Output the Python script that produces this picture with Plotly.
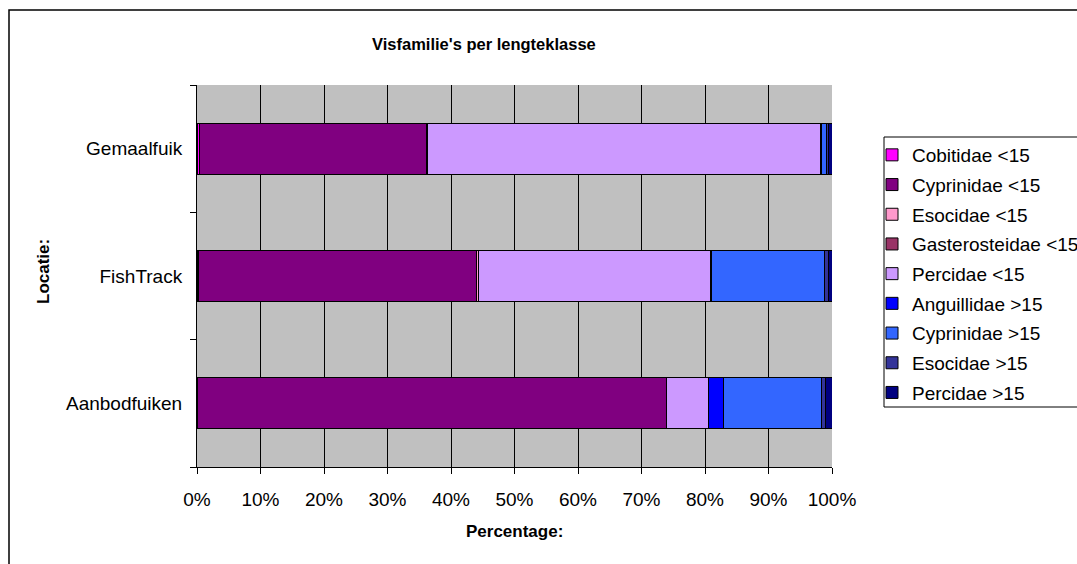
import plotly.graph_objects as go

locations = ["Aanbodfuiken", "FishTrack", "Gemaalfuik"]

series_names = [
    "Cobitidae <15", "Cyprinidae <15", "Esocidae <15", "Gasterosteidae <15",
    "Percidae <15", "Anguillidae >15", "Cyprinidae >15", "Esocidae >15", "Percidae >15",
]
series_colors = [
    "#FF00FF", "#800080", "#FF99CC", "#993366",
    "#CC99FF", "#0000FF", "#3366FF", "#333399", "#000080",
]

# percentages per location: [Aanbodfuiken, FishTrack, Gemaalfuik]
cobitidae_lt15 = [0.0, 0.2, 0.4]
cyprinidae_lt15 = [74.0, 43.8, 35.8]
esocidae_lt15 = [0.0, 0.3, 0.0]
gasterosteidae_lt15 = [0.0, 0.0, 0.1]
percidae_lt15 = [6.5, 36.5, 61.9]
anguillidae_gt15 = [2.4, 0.2, 0.1]
cyprinidae_gt15 = [15.4, 17.8, 0.9]
esocidae_gt15 = [0.6, 0.7, 0.3]
percidae_gt15 = [1.1, 0.5, 0.5]

series_values = [
    cobitidae_lt15, cyprinidae_lt15, esocidae_lt15, gasterosteidae_lt15,
    percidae_lt15, anguillidae_gt15, cyprinidae_gt15, esocidae_gt15, percidae_gt15,
]

x_ticks = [0, 10, 20, 30, 40, 50, 60, 70, 80, 90, 100]
x_ticklabels = [f"{v}%" for v in x_ticks]

FONT = "Liberation Sans, Arial, sans-serif"

fig = go.Figure()
for i, (name, color, vals) in enumerate(zip(series_names, series_colors, series_values)):
    fig.add_trace(go.Bar(
        y=locations, x=vals, name=name, orientation="h",
        marker=dict(color=color, line=dict(color="black", width=1)),
        width=0.4, legendgroup=f"g{i}",
        hovertemplate="%{y}: %{x}%<extra>" + name + "</extra>",
    ))

W, H = 1077, 564
L, R, T, B = 197, 832, 85, 467
pw, ph = R - L, B - T

def px_x(px):
    return (px - L) / pw

def px_y(py):
    return (B - py) / ph

fig.update_layout(
    width=W, height=H,
    margin=dict(l=L, r=W - R, t=T, b=H - B, pad=0, autoexpand=False),
    barmode="stack",
    paper_bgcolor="white",
    plot_bgcolor="#C0C0C0",
    font=dict(family=FONT, size=19, color="black"),
    showlegend=True,
    legend=dict(
        x=px_x(872), y=px_y(136), xanchor="left", yanchor="top",
        bgcolor="rgba(0,0,0,0)", borderwidth=0,
        font=dict(family=FONT, size=19, color="black"),
        traceorder="grouped", tracegroupgap=2,
    ),
    xaxis=dict(
        range=[0, 100], tickvals=x_ticks, ticktext=x_ticklabels,
        showgrid=True, gridcolor="black", gridwidth=1,
        showline=True, linecolor="black", linewidth=1,
        ticks="outside", ticklen=6, tickcolor="black",
        ticklabelstandoff=9, zeroline=False, fixedrange=True,
    ),
    yaxis=dict(
        categoryorder="array", categoryarray=locations,
        showgrid=False, showline=True, linecolor="black", linewidth=1,
        ticks="outside", ticklen=6, tickcolor="black", tickson="boundaries",
        ticklabelstandoff=10, fixedrange=True,
    ),
    annotations=[
        dict(text="<b>Visfamilie's per lengteklasse</b>", xref="paper", yref="paper",
             x=px_x(484), y=px_y(44), xanchor="center", yanchor="middle",
             showarrow=False, font=dict(family=FONT, size=16.5, color="black")),
        dict(text="<b>Percentage:</b>", xref="paper", yref="paper",
             x=px_x(514), y=px_y(531), xanchor="center", yanchor="middle",
             showarrow=False, font=dict(family=FONT, size=17, color="black")),
        dict(text="<b>Locatie:</b>", xref="paper", yref="paper",
             x=px_x(43), y=px_y(272), xanchor="center", yanchor="middle",
             textangle=-90, showarrow=False,
             font=dict(family=FONT, size=17, color="black")),
    ],
    shapes=[
        dict(type="rect", xref="paper", yref="paper",
             x0=px_x(9), x1=px_x(1200), y0=px_y(700), y1=px_y(10),
             line=dict(color="black", width=1.5), fillcolor="rgba(0,0,0,0)", layer="below"),
        dict(type="rect", xref="paper", yref="paper",
             x0=px_x(884), x1=px_x(1200), y0=px_y(407), y1=px_y(137),
             line=dict(color="black", width=1), fillcolor="white", layer="above"),
    ],
)

fig.write_html("out.html", config={"displayModeBar": False},
               post_script="document.body.style.margin='0px';")
